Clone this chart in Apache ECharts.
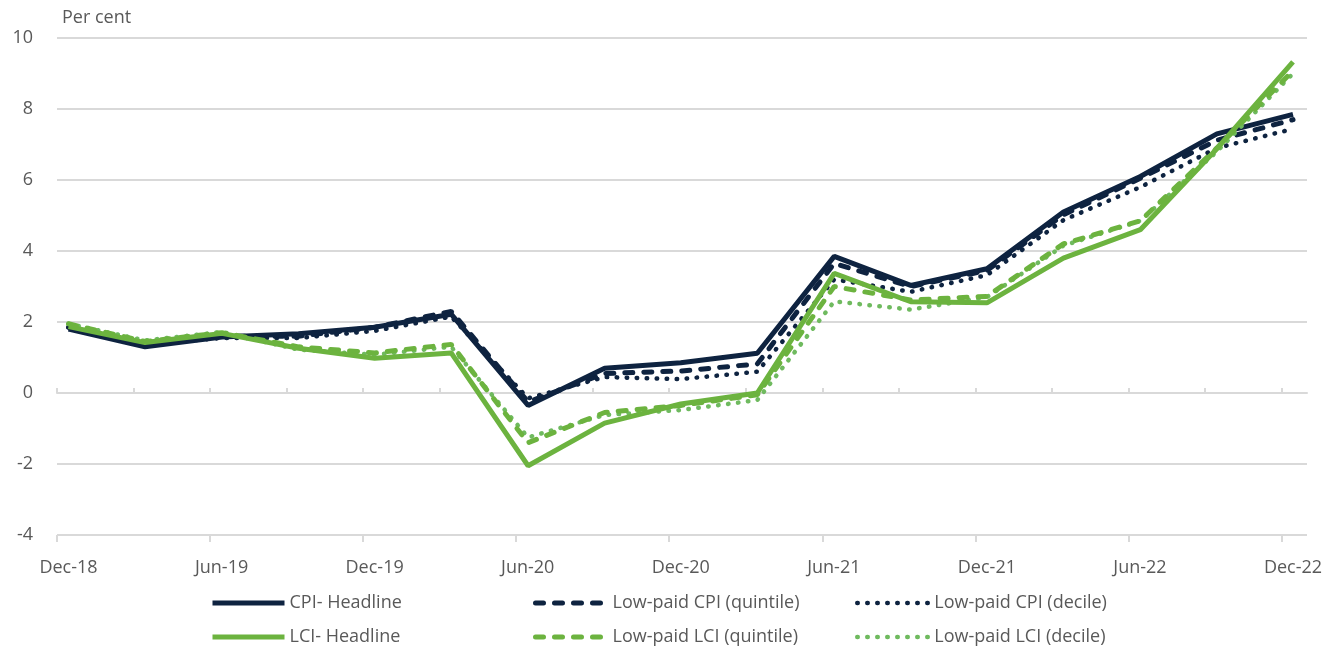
<!DOCTYPE html>
<html>
<head>
<meta charset="utf-8">
<script src="https://cdn.jsdelivr.net/npm/echarts@6/dist/echarts.min.js"></script>
<style>
html,body{margin:0;padding:0;background:#fff;}
#chart{width:1344px;height:651px;}
</style>
</head>
<body>
<div id="chart"></div>
<script>
// Observation dates (mid-month, quarterly)
const dates = ['2018-12-15','2019-03-15','2019-06-15','2019-09-15','2019-12-15','2020-03-15','2020-06-15','2020-09-15','2020-12-15','2021-03-15','2021-06-15','2021-09-15','2021-12-15','2022-03-15','2022-06-15','2022-09-15','2022-12-15'];
const tickLabels = ['Dec-18','Jun-19','Dec-19','Jun-20','Dec-20','Jun-21','Dec-21','Jun-22','Dec-22'];

const cpiHeadline = [1.8, 1.3, 1.58, 1.67, 1.85, 2.22, -0.35, 0.7, 0.85, 1.12, 3.85, 3.03, 3.5, 5.1, 6.1, 7.3, 7.85];
const cpiQuintile = [1.85, 1.35, 1.6, 1.6, 1.85, 2.3, -0.25, 0.55, 0.62, 0.82, 3.65, 3.0, 3.45, 5.02, 6.05, 7.12, 7.7];
const cpiDecile   = [1.85, 1.38, 1.55, 1.55, 1.75, 2.15, -0.15, 0.45, 0.39, 0.6, 3.2, 2.85, 3.32, 4.87, 5.8, 6.9, 7.44];
const lciHeadline = [1.87, 1.42, 1.68, 1.26, 0.98, 1.13, -2.05, -0.85, -0.31, 0.0, 3.37, 2.57, 2.54, 3.8, 4.6, 6.88, 9.33];
const lciQuintile = [1.95, 1.45, 1.7, 1.3, 1.13, 1.37, -1.4, -0.55, -0.35, -0.05, 3.0, 2.62, 2.72, 4.2, 4.85, 6.9, 9.08];
const lciDecile   = [1.95, 1.48, 1.72, 1.22, 1.08, 1.3, -1.25, -0.62, -0.48, -0.2, 2.58, 2.35, 2.7, 4.15, 4.85, 6.8, 9.0];

// axis start: 1 Dec 2018; end: 1 Jan 2023 (month units)
function monthsSinceStart(s) {
  const [y, m, d] = s.split('-').map(Number);
  const dim = new Date(y, m, 0).getDate();
  return (y - 2018) * 12 + (m - 12) + (d - 1) / dim;
}
const xs = dates.map(monthsSinceStart);
const xMax = 49;
const majorTicks = tickLabels.map((_, i) => i * 6);
const minorTicks = [];
for (let m = 0; m <= 48; m += 3) minorTicks.push(m);
const labelPos = majorTicks.map(v => v + xs[0]);

const NAVY = '#0e2340';
const GREEN = '#6cb33f';
const GREEN_DOT = '#6fba5f';
const GRID = '#d9d9d9';
const TXT = '#595959';
const FONT = '"Open Sans", sans-serif';

function styleFor(color, kind) {
  if (kind === 'dash') return { color, width: 5, type: [8, 11], cap: 'round' };
  if (kind === 'dot') return { color, width: 4.5, type: [0.5, 9.5], cap: 'round' };
  return { color, width: 5, cap: 'butt' };
}
function mk(vals) { return vals.map((v, i) => [xs[i], v]); }
function line(name, vals, color, kind) {
  return { name, type: 'line', data: mk(vals), showSymbol: false, symbol: 'none',
    lineStyle: styleFor(color, kind), itemStyle: { color }, xAxisIndex: 0, yAxisIndex: 0, z: 3, animation: false };
}

const chart = echarts.init(document.getElementById('chart'), null, { renderer: 'canvas' });

const legendCols = [210, 533, 855];
const legendRows = [594, 628];
const legendItems = [
  [['CPI- Headline', NAVY, 'solid'], ['Low-paid CPI (quintile)', NAVY, 'dash'], ['Low-paid CPI (decile)', NAVY, 'dot']],
  [['LCI- Headline', GREEN, 'solid'], ['Low-paid LCI (quintile)', GREEN, 'dash'], ['Low-paid LCI (decile)', GREEN_DOT, 'dot']]
];
const legends = [];
legendItems.forEach((row, r) => row.forEach((it, c) => {
  const st = styleFor(it[1], it[2]);
  legends.push({ data: [it[0]], left: legendCols[c], top: legendRows[r], itemWidth: 72, itemHeight: 18,
    itemGap: 0, padding: 0, selectedMode: false,
    itemStyle: { opacity: 0 },
    lineStyle: { width: st.width, type: st.type || 'solid', cap: st.cap, color: it[1] },
    textStyle: { color: TXT, fontSize: 18, fontFamily: FONT } });
}));

chart.setOption({
  animation: false,
  backgroundColor: '#fff',
  grid: { left: 57, right: 37, top: 38, bottom: 116, containLabel: false },
  graphic: [{ type: 'text', left: 62, top: 9, style: { text: 'Per cent', fill: TXT, font: '18px "Open Sans", sans-serif' } }],
  legend: legends,
  xAxis: [
    { type: 'value', min: 0, max: xMax, position: 'bottom',
      axisLine: { show: true, onZero: true, lineStyle: { color: GRID, width: 2 } },
      axisTick: { show: true, inside: true, length: 5, customValues: minorTicks, lineStyle: { color: GRID, width: 2 } },
      axisLabel: { show: false }, splitLine: { show: false } },
    { type: 'value', min: 0, max: xMax, position: 'bottom',
      axisLine: { show: false, onZero: true },
      axisTick: { show: true, inside: false, length: 7, customValues: majorTicks, lineStyle: { color: GRID, width: 2 } },
      axisLabel: { show: false }, splitLine: { show: false } },
    { type: 'value', min: 0, max: xMax, position: 'bottom',
      axisLine: { show: false, onZero: false }, axisTick: { show: false }, splitLine: { show: false },
      axisLabel: { show: true, margin: 24, color: TXT, fontSize: 18, fontFamily: FONT,
        customValues: labelPos,
        formatter: function (v) { const i = Math.round((v - xs[0]) / 6); return tickLabels[i] || ''; } } }
  ],
  yAxis: [{ type: 'value', min: -4, max: 10, interval: 2,
    axisLine: { show: false }, axisTick: { show: false },
    axisLabel: { color: TXT, fontSize: 18, fontFamily: FONT, margin: 24 },
    splitLine: { show: true, lineStyle: { color: GRID, width: 2 } } }],
  series: [
    line('Low-paid CPI (decile)', cpiDecile, NAVY, 'dot'),
    line('Low-paid CPI (quintile)', cpiQuintile, NAVY, 'dash'),
    line('CPI- Headline', cpiHeadline, NAVY, 'solid'),
    line('Low-paid LCI (decile)', lciDecile, GREEN_DOT, 'dot'),
    line('Low-paid LCI (quintile)', lciQuintile, GREEN, 'dash'),
    line('LCI- Headline', lciHeadline, GREEN, 'solid')
  ]
});
</script>
</body>
</html>
